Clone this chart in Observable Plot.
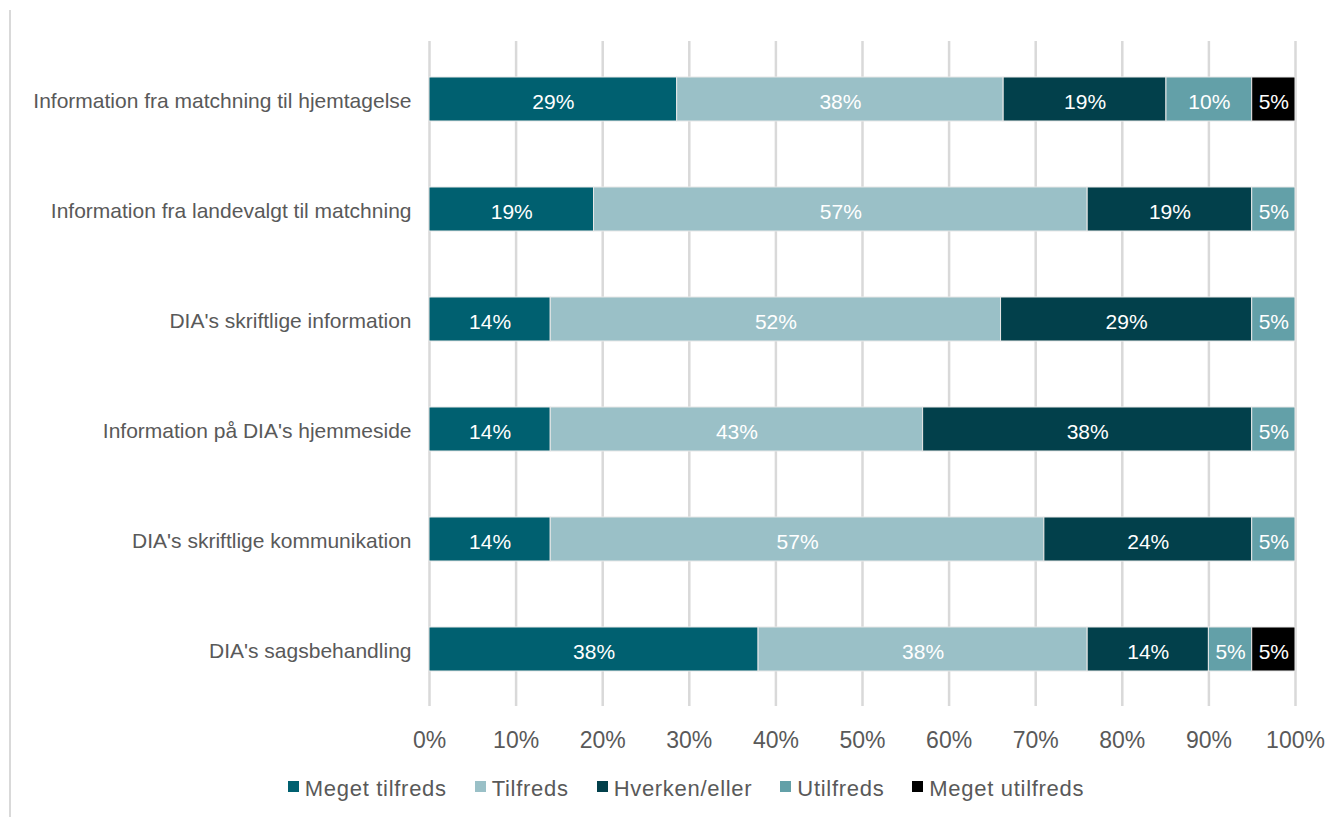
<!DOCTYPE html>
<html><head><meta charset="utf-8">
<script src="https://cdn.jsdelivr.net/npm/d3@7"></script>
<script src="https://cdn.jsdelivr.net/npm/@observablehq/plot@0.6"></script>
<style>
body{margin:0;background:#fff;font-family:"Liberation Sans",Arial,sans-serif;}
#wrap{position:relative;width:1344px;height:817px;overflow:hidden;}
#frame{position:absolute;left:9px;top:10px;width:2px;height:807px;background:#d9d9d9;}
#legend{position:absolute;top:776px;left:28px;width:1316px;display:flex;justify-content:center;align-items:center;font-size:22px;letter-spacing:0.7px;color:#595959;}
.item{display:flex;align-items:center;margin:0 14px;}
.sw{width:11px;height:11px;margin-right:6px;margin-top:-5px;}
</style>
</head><body>
<div id="wrap"><div id="frame"></div><div id="chart"></div><div id="legend"></div></div>
<script>
const items = [
  "Information fra matchning til hjemtagelse",
  "Information fra landevalgt til matchning",
  "DIA's skriftlige information",
  "Information på DIA's hjemmeside",
  "DIA's skriftlige kommunikation",
  "DIA's sagsbehandling"
];
const categories = ["Meget tilfreds", "Tilfreds", "Hverken/eller", "Utilfreds", "Meget utilfreds"];
const colors = ["#006070", "#9ac0c7", "#02404b", "#63a0a8", "#000000"];
const megetTilfreds = [28.6, 19, 14, 14, 14, 38];
const tilfreds = [37.7, 57, 52, 43, 57, 38];
const hverken = [18.8, 19, 29, 38, 24, 14];
const utilfreds = [9.9, 5, 5, 5, 5, 5];
const megetUtilfreds = [5.0, 0, 0, 0, 0, 5];
const xTicks = [0, 10, 20, 30, 40, 50, 60, 70, 80, 90, 100];

const series = [megetTilfreds, tilfreds, hverken, utilfreds, megetUtilfreds];
const data = [];
items.forEach((item, i) => {
  categories.forEach((cat, j) => {
    const v = series[j][i];
    if (v > 0) data.push({item, cat, value: v});
  });
});

const font = '"Liberation Sans", Arial, sans-serif';
const chart = Plot.plot({
  width: 1344, height: 770,
  marginLeft: 429, marginRight: 49, marginTop: 41, marginBottom: 64,
  style: {fontFamily: font, fontSize: "21px", color: "#595959", background: "transparent"},
  x: {domain: [0, 100], label: null},
  y: {domain: items, paddingInner: 0.6, paddingOuter: 0.3, label: null},
  color: {domain: categories, range: colors},
  marks: [
    Plot.gridX(xTicks, {stroke: "#d9d9d9", strokeWidth: 2.5, strokeOpacity: 1}),
    Plot.barX(data, Plot.stackX({x: "value", y: "item", fill: "cat", stroke: "#e8e8e8", strokeWidth: 1})),
    Plot.textX(data, Plot.stackX({x: "value", y: "item", text: d => Math.round(d.value) + "%", fill: "white", fontSize: 21, dy: 3})),
    Plot.axisX({ticks: xTicks, tickSize: 0, tickPadding: 25, fontSize: 23, tickFormat: d => d + "%", label: null}),
    Plot.axisY({tickSize: 0, tickPadding: 18, fontSize: 21, dy: 2, label: null})
  ]
});
document.getElementById("chart").appendChild(chart);

const legend = document.getElementById("legend");
categories.forEach((c, i) => {
  const it = document.createElement("div");
  it.className = "item";
  const sw = document.createElement("span");
  sw.className = "sw";
  sw.style.background = colors[i];
  const t = document.createElement("span");
  t.textContent = c;
  it.appendChild(sw); it.appendChild(t);
  legend.appendChild(it);
});
</script>
</body></html>
